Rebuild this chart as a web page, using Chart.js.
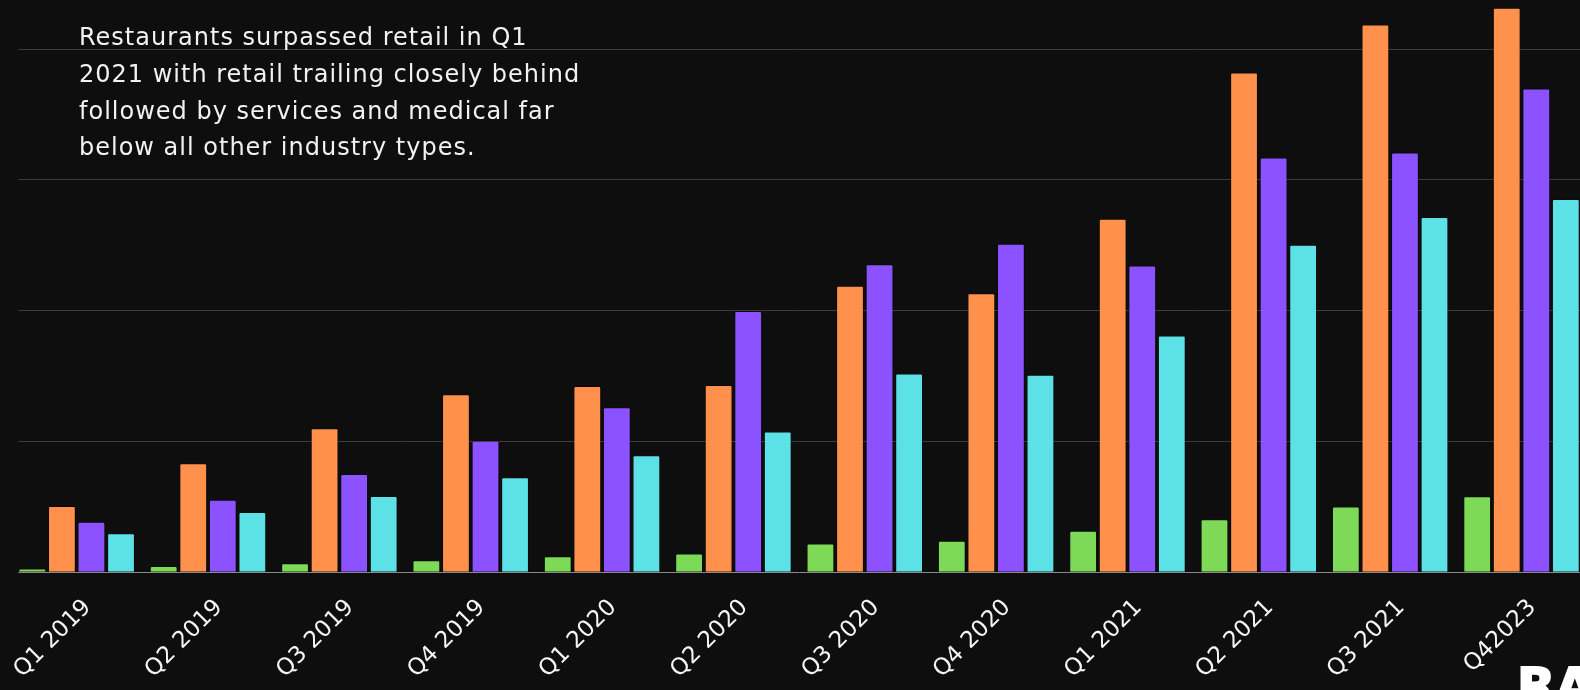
<!DOCTYPE html>
<html>
<head>
<meta charset="utf-8">
<script src="https://cdn.jsdelivr.net/npm/chart.js@4/dist/chart.umd.min.js"></script>
<style>
  html, body { margin:0; padding:0; background:#0e0e0e; width:1580px; height:690px; overflow:hidden; }
  #wrap { position:absolute; left:0; top:-20px; width:1600px; height:710px; }
  #note { position:absolute; left:79px; top:19px; width:560px; color:#f2f2f2; white-space:nowrap;
          font-family:"DejaVu Sans", sans-serif; font-size:24px; line-height:36.8px; font-weight:400;
          letter-spacing:1.0px; }
  #logo { position:absolute; left:1517px; top:661px; color:#ffffff;
          font-family:"DejaVu Sans", sans-serif; font-weight:700; font-size:50px; line-height:50px;
          -webkit-text-stroke:2px #ffffff; white-space:nowrap; }
</style>
</head>
<body>
<div id="wrap"><canvas id="c" width="1600" height="710"></canvas></div>
<div id="note">Restaurants surpassed retail in Q1<br>2021 with retail trailing closely behind<br>followed by services and medical far<br>below all other industry types.</div>
<div id="logo">RA</div>
<script>
const categories = ["Q1 2019","Q2 2019","Q3 2019","Q4 2019","Q1 2020","Q2 2020","Q3 2020","Q4 2020","Q1 2021","Q2 2021","Q3 2021","Q42023"];
const medical     = [2.8, 4.8, 6.8, 9.1, 12.2, 14.3, 22.0, 24.0, 31.6, 40.5, 50.2, 58.1];
const restaurants = [50.6, 83.3, 110.0, 136.0, 142.3, 143.1, 219.0, 213.2, 270.3, 382.0, 418.7, 431.5];
const retail      = [38.6, 55.4, 75.1, 100.5, 126.2, 199.7, 235.4, 251.2, 234.4, 317.0, 320.8, 369.8];
const services    = [29.7, 46.0, 58.3, 72.6, 89.5, 107.6, 152.0, 151.0, 181.0, 250.4, 271.6, 285.4];
const seriesNames = ["Medical", "Restaurants", "Retail", "Services"];
const seriesColors = ["#7ED957", "#FF914D", "#8C52FF", "#5CE1E6"];

const seriesData = [medical, restaurants, retail, services];

const leftMask = {
  id: 'leftMask',
  beforeDatasetsDraw(chart) {
    const a = chart.chartArea, ctx = chart.ctx;
    ctx.save();
    ctx.fillStyle = '#0e0e0e';
    ctx.fillRect(a.left - 2, a.top, 7.3 + 2, a.bottom - a.top + 2);
    ctx.restore();
  }
};

new Chart(document.getElementById('c'), {
  type: 'bar',
  data: {
    labels: categories,
    datasets: seriesData.map((d, i) => ({
      label: seriesNames[i],
      data: d,
      backgroundColor: seriesColors[i],
      borderColor: 'rgba(0,0,0,0.35)',
      borderWidth: 1,
      borderRadius: 2,
      borderSkipped: 'bottom',
      categoryPercentage: 0.9,
      barPercentage: 0.94
    }))
  },
  options: {
    responsive: false,
    devicePixelRatio: 1,
    animation: false,
    layout: { padding: { left: 11, right: 12.8, top: 16.7, bottom: 0 } },
    plugins: { legend: { display: false }, tooltip: { enabled: false } },
    scales: {
      x: {
        grid: { display: false },
        border: { display: true, color: '#8a8a8a', width: 1 },
        ticks: {
          color: '#f5f5f5',
          font: { family: '"DejaVu Sans", sans-serif', size: 23 },
          minRotation: 45, maxRotation: 45,
          padding: 14,
          labelOffset: 11
        },
        afterFit(scale) {
          scale.height = 117.8;
          scale.paddingLeft = 0; scale.paddingRight = 0;
          scale.paddingTop = 0; scale.paddingBottom = 0;
        }
      },
      y: {
        min: 0, max: 440,
        ticks: { display: false, stepSize: 100 },
        grid: {
          drawTicks: false,
          color: (c) => (c.tick && c.tick.value > 0 && c.tick.value % 100 === 0) ? '#3c3c3c' : 'rgba(0,0,0,0)',
          lineWidth: 1
        },
        border: { display: false },
        afterFit(scale) {
          scale.width = 0;
          scale.paddingTop = 0; scale.paddingBottom = 0;
          scale.paddingLeft = 0; scale.paddingRight = 0;
        }
      }
    }
  },
  plugins: [leftMask]
});
</script>
</body>
</html>
